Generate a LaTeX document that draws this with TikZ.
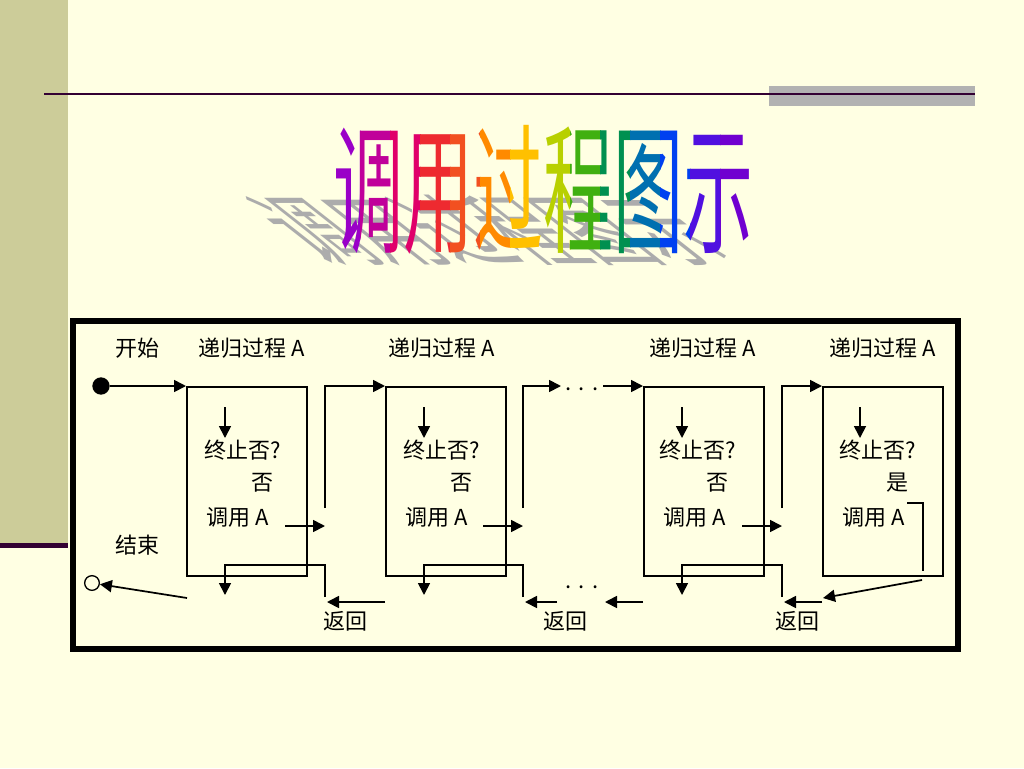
\documentclass[tikz,border=0pt]{standalone}
\usepackage{fontspec}
\newfontfamily\cjk{Noto Sans CJK SC}
\usetikzlibrary{arrows.meta}
\definecolor{bg}{RGB}{255,255,227}
\definecolor{band}{RGB}{204,204,153}
\definecolor{rulec}{RGB}{51,0,51}
\definecolor{grayrect}{RGB}{178,178,178}
\definecolor{shadowc}{RGB}{172,172,172}
\definecolor{t0}{HTML}{9A00C8}
\definecolor{t1}{HTML}{C0009A}
\definecolor{t2}{HTML}{E0006A}
\definecolor{t3}{HTML}{EE2A30}
\definecolor{t4}{HTML}{F25020}
\definecolor{t5}{HTML}{FF8A00}
\definecolor{t6}{HTML}{FFC000}
\definecolor{t7}{HTML}{B8D000}
\definecolor{t8}{HTML}{40B010}
\definecolor{t9}{HTML}{009050}
\definecolor{t10}{HTML}{0070B0}
\definecolor{t11}{HTML}{0040F0}
\definecolor{t12}{HTML}{5010E0}
\definecolor{t13}{HTML}{7000D0}
\definecolor{t14}{HTML}{7000D0}
\begin{document}
\begin{tikzpicture}[x=0.75pt,y=-0.75pt,
  conn/.style={line width=1.3pt, draw=black},
  arr/.style={conn, -{Triangle[length=9pt,width=9pt]}},
  lbl/.style={font=\cjk\fontsize{16.5}{16.5}\selectfont, inner sep=0pt},
  procbox/.style={draw, line width=1.3pt, inner sep=0pt, minimum width=90pt, minimum height=141.75pt, anchor=north west},
  titlefont/.style={font=\cjk\fontsize{52.5}{52.5}\selectfont, inner sep=0pt, anchor=base}
]
\useasboundingbox (0,0) rectangle (1024,768);
\fill[bg] (0,0) rectangle (1024,768);
\fill[band] (0,0) rectangle (68,544);
\fill[rulec] (0,543) rectangle (68,548);
\fill[grayrect] (769,86) rectangle (975,106);
\draw[rulec, line width=2.2pt] (44,94) -- (975,94);

% title shadow
\node[titlefont, text=shadowc, cm={1,0,-1.4,1.1,(0,0)}] (tshadow) at (525,259) {调用过程图示};
% title with rainbow strips
\foreach \i in {0,...,14} {
  \begin{scope}
    \clip (330+\i*30,100) rectangle (360+\i*30,275);
    \node[titlefont, text=t\i, yscale=2.0] (title\i) at (543,242) {调用过程图示};
  \end{scope}
}

% frame
\draw[line width=4.5pt] (73,321) rectangle (958,649);

% labels
\node[lbl] (lstart) at (137,348) {开始};
\node[lbl] (lend) at (137,545) {结束};
\node[lbl] (p1) at (252,348) {递归过程 A};
\node[lbl] (p2) at (442,348) {递归过程 A};
\node[lbl] (p3) at (703,348) {递归过程 A};
\node[lbl] (p4) at (883,348) {递归过程 A};

% boxes
\node[procbox] (b1) at (186,386) {};
\node[procbox] (b2) at (385,386) {};
\node[procbox] (b3) at (643,386) {};
\node[procbox] (b4) at (822,386) {};

% box texts
\node[lbl] (q1) at (243,450) {终止否?};
\node[lbl] (a1) at (262,483) {否};
\node[lbl] (c1) at (238,517) {调用 A};
\node[lbl] (q2) at (442,450) {终止否?};
\node[lbl] (a2) at (461,483) {否};
\node[lbl] (c2) at (437,517) {调用 A};
\node[lbl] (q3) at (698,450) {终止否?};
\node[lbl] (a3) at (717,483) {否};
\node[lbl] (c3) at (695,517) {调用 A};
\node[lbl] (q4) at (878,450) {终止否?};
\node[lbl] (a4) at (897,483) {是};
\node[lbl] (c4) at (874,517) {调用 A};

\node[lbl] (r1) at (345,621) {返回};
\node[lbl] (r2) at (565,621) {返回};
\node[lbl] (r3) at (797,621) {返回};

\node[lbl] (dtop) at (582,389) {.\,\,.\,\,.};
\node[lbl] (dbot) at (582,587) {.\,\,.\,\,.};

% start / end
\node[circle, fill=black, inner sep=0pt, minimum size=13pt] (sdot) at (101,386) {};
\node[circle, draw=black, line width=1pt, inner sep=0pt, minimum size=11pt] (edot) at (92,583) {};
\draw[arr] (sdot) -- (b1.north west);
\coordinate (e0) at (187,598);
\draw[arr] (e0) -- (edot);

% box 1
\coordinate (d1a) at (225,407); \coordinate (d1b) at (225,438);
\draw[arr] (d1a) -- (d1b);
\coordinate (k1a) at (285,526); \coordinate (k1b) at (325,526);
\draw[arr] (k1a) -- (k1b);
\coordinate (v1) at (325,508);
\draw[arr] (v1) |- (b2.north west);
\coordinate (w1) at (325,597); \coordinate (u1) at (225,565); \coordinate (u1e) at (225,595);
\draw[arr] (w1) |- (u1) -- (u1e);
\coordinate (s1a) at (385,602); \coordinate (s1b) at (327,602);
\draw[arr] (s1a) -- (s1b);

% box 2
\coordinate (d2a) at (424,407); \coordinate (d2b) at (424,438);
\draw[arr] (d2a) -- (d2b);
\coordinate (k2a) at (483,526); \coordinate (k2b) at (523,526);
\draw[arr] (k2a) -- (k2b);
\coordinate (v2) at (523,508); \coordinate (v2e) at (561,386);
\draw[arr] (v2) |- (v2e);
\coordinate (g2) at (603,386);
\draw[arr] (g2) -- (b3.north west);
\coordinate (w2) at (523,597); \coordinate (u2) at (424,565); \coordinate (u2e) at (424,595);
\draw[arr] (w2) |- (u2) -- (u2e);
\coordinate (s2a) at (557,602); \coordinate (s2b) at (525,602);
\draw[arr] (s2a) -- (s2b);
\coordinate (s3a) at (643,602); \coordinate (s3b) at (605,602);
\draw[arr] (s3a) -- (s3b);

% box 3
\coordinate (d3a) at (682,407); \coordinate (d3b) at (682,438);
\draw[arr] (d3a) -- (d3b);
\coordinate (k3a) at (742,526); \coordinate (k3b) at (782,526);
\draw[arr] (k3a) -- (k3b);
\coordinate (v3) at (782,508);
\draw[arr] (v3) |- (b4.north west);
\coordinate (w3) at (782,597); \coordinate (u3) at (682,565); \coordinate (u3e) at (682,595);
\draw[arr] (w3) |- (u3) -- (u3e);
\coordinate (s4a) at (822,602); \coordinate (s4b) at (784,602);
\draw[arr] (s4a) -- (s4b);

% box 4
\coordinate (d4a) at (860,407); \coordinate (d4b) at (860,438);
\draw[arr] (d4a) -- (d4b);
\coordinate (h4a) at (907,503); \coordinate (h4b) at (923,503); \coordinate (h4c) at (923,571);
\draw[conn] (h4a) -- (h4b) -- (h4c);
\coordinate (x4a) at (922,580); \coordinate (x4b) at (823,598);
\draw[arr] (x4a) -- (x4b);
\end{tikzpicture}
\end{document}
